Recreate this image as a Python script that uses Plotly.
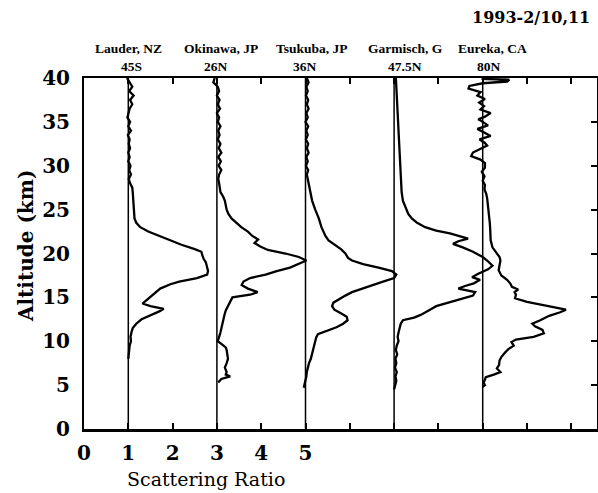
import plotly.graph_objects as go

# ---------------- data (scattering ratio vs altitude) ----------------
stations = ["Lauder, NZ", "Okinawa, JP", "Tsukuba, JP", "Garmisch, G", "Eureka, CA"]
latitudes = ["45S", "26N", "36N", "47.5N", "80N"]
offsets = [0, 2, 4, 6, 8]          # horizontal shift of each profile (baseline = 1 + offset)

lauder_alt = [40, 39.5, 39, 38.5, 38, 37.5, 37, 36.5, 36, 35.5, 35, 34.5, 34, 33.5, 33, 32.5, 32, 31.5, 31,
              30.5, 30, 29.5, 29, 28.5, 28, 27.5, 27, 26, 25, 24, 23.5, 23, 22.5, 22, 21.5, 21, 20.5, 20.2,
              19.8, 19.4, 19, 18.5, 18, 17.6, 17.2, 16.8, 16.5, 16, 15.5, 15, 14.6, 14.3, 14, 13.7, 13.4,
              13, 12.5, 12, 11.5, 11, 10.5, 10, 9.5, 9, 8.5, 8]
lauder_sr = [0.97, 1.03, 1.09, 1.02, 1.12, 1.04, 1.09, 1.03, 1.01, 0.98, 1.04, 1.0, 1.06, 0.99, 1.03, 1.01,
             1.04, 1.0, 1.03, 1.0, 1.05, 1.02, 1.06, 1.01, 1.04, 1.09, 1.1, 1.11, 1.13, 1.14, 1.18, 1.27,
             1.45, 1.7, 1.95, 2.2, 2.5, 2.65, 2.67, 2.7, 2.75, 2.78, 2.8, 2.78, 2.55, 2.15, 1.95, 1.72, 1.6,
             1.5, 1.38, 1.32, 1.5, 1.8, 1.7, 1.52, 1.3, 1.18, 1.1, 1.07, 1.05, 1.06, 1.03, 1.02, 1.01, 1.0]

okinawa_alt = [40, 39.5, 39, 38.5, 38, 37.5, 37, 36.5, 36, 35.5, 35, 34.5, 34, 33.5, 33, 32.5, 32, 31.5, 31,
               30.5, 30, 29.5, 29, 28.5, 28, 27.5, 27, 26.5, 26, 25, 24.5, 24, 23.5, 23, 22.5, 22, 21.6,
               21.2, 20.8, 20.4, 20, 19.6, 19.2, 18.8, 18.4, 18, 17.6, 17.2, 16.8, 16.4, 16, 15.6, 15.3,
               15, 14.5, 14, 13.5, 13, 12, 11, 10.5, 10, 9.7, 9.3, 9, 8.5, 8, 7.5, 7, 6.5, 6.2, 6, 5.7, 5.3]
okinawa_sr = [0.95, 0.92, 1.02, 1.05, 1.0, 1.06, 1.02, 1.07, 1.0, 1.05, 1.02, 1.08, 1.03, 1.06, 1.02, 1.08,
              1.04, 1.1, 1.03, 1.09, 1.04, 1.1, 1.05, 1.03, 1.05, 1.06, 1.08, 1.14, 1.18, 1.22, 1.26, 1.33,
              1.45, 1.55, 1.7, 1.8, 1.93, 1.85, 1.98, 2.15, 2.55, 2.85, 3.02, 2.85, 2.65, 2.35, 2.1, 1.75,
              1.6, 1.56, 1.7, 1.92, 1.75, 1.35, 1.3, 1.25, 1.2, 1.17, 1.13, 1.08, 1.05, 1.02, 1.1, 1.2, 1.22,
              1.24, 1.25, 1.22, 1.18, 1.22, 1.2, 1.3, 1.1, 1.03]

tsukuba_alt = [40, 39.5, 39, 38.5, 38, 37.5, 37, 36.5, 36, 35.5, 35, 34.5, 34, 33.5, 33, 32.5, 32, 31.5, 31,
               30.5, 30, 29.5, 29, 28.5, 28, 27.5, 27, 26, 25, 24, 23, 22.5, 22, 21.5, 21, 20.5, 20, 19.5,
               19.2, 18.8, 18.4, 18, 17.6, 17.2, 16.8, 16.4, 16, 15.6, 15.2, 14.8, 14.4, 14, 13.6, 13.2,
               12.8, 12.4, 12, 11.6, 11.2, 10.8, 10.4, 10, 9.5, 9, 8.5, 8, 7.5, 7, 6.5, 6, 5.5, 5, 4.7]
tsukuba_sr = [1.03, 1.07, 1.02, 1.05, 1.01, 1.06, 1.03, 1.07, 1.02, 1.05, 1.0, 1.06, 1.02, 1.05, 1.01, 1.06,
              1.03, 1.07, 1.02, 1.05, 1.01, 1.06, 1.03, 1.05, 1.07, 1.1, 1.12, 1.15, 1.22, 1.3, 1.36, 1.4,
              1.45, 1.52, 1.65, 1.8, 1.9, 1.96, 2.05, 2.3, 2.65, 2.95, 3.05, 3.0, 2.75, 2.5, 2.3, 2.05, 1.9,
              1.75, 1.63, 1.6, 1.65, 1.8, 1.93, 1.95, 1.85, 1.7, 1.5, 1.28, 1.24, 1.22, 1.2, 1.18, 1.16,
              1.12, 1.08, 1.05, 1.03, 1.02, 1.0, 0.97, 0.96]

garmisch_alt = [40, 39, 38, 37, 36, 35, 34, 33, 32, 31, 30, 29, 28, 27, 26, 25, 24.5, 24, 23.5, 23, 22.6,
                22.3, 22, 21.7, 21.4, 21.1, 20.7, 20.2, 19.6, 19.2, 18.6, 18.2, 17.7, 17.3, 17.0, 16.6,
                16.3, 16.0, 15.6, 15.2, 14.8, 14.4, 14.0, 13.5, 13.0, 12.7, 12.4, 12, 11.5, 11, 10.5, 10,
                9.5, 9, 8.5, 8, 7.5, 7, 6.5, 6, 5.5, 5, 4.5]
garmisch_sr = [1.04, 1.05, 1.06, 1.06, 1.07, 1.08, 1.09, 1.1, 1.11, 1.12, 1.13, 1.14, 1.15, 1.17, 1.2,
               1.27, 1.32, 1.4, 1.52, 1.7, 1.95, 2.26, 2.5, 2.67, 2.45, 2.33, 2.55, 2.78, 3.0, 3.1, 3.22,
               3.12, 2.9, 2.76, 2.94, 2.8, 2.6, 2.45, 2.83, 2.78, 2.5, 2.2, 1.95, 1.78, 1.6, 1.45, 1.2, 1.15,
               1.12, 1.1, 1.08, 1.1, 1.06, 1.04, 1.07, 1.03, 1.05, 1.02, 1.06, 1.03, 1.05, 1.02, 1.0]

eureka_alt = [40, 39.9, 39.8, 39.6, 39.4, 39.1, 38.8, 38.4, 38.0, 37.6, 37.2, 36.8, 36.4, 36.0, 35.6, 35.3,
              35.0, 34.6, 34.2, 33.8, 33.4, 33.0, 32.6, 32.3, 31.9, 31.5, 31.1, 30.7, 30.3, 29.8, 29.3,
              28.8, 28.3, 27.8, 27.3, 26.8, 26.3, 25.5, 24.6, 23.5, 22.7, 21.5, 20.7, 20.2, 19.6, 19.2,
              18.6, 18.1, 17.5, 17.0, 16.6, 16.2, 15.9, 15.6, 15.3, 14.9, 14.5, 14.2, 13.9, 13.6, 13.3,
              12.9, 12.4, 12.0, 11.7, 11.3, 10.9, 10.5, 10.2, 9.9, 9.5, 9.1, 8.7, 8.2, 7.8, 7.3, 6.9, 6.5,
              6.2, 5.9, 5.6, 5.3, 5.0, 4.8]
eureka_sr = [1.0, 1.0, 1.6, 1.55, 1.0, 0.7, 0.68, 0.95, 0.88, 1.05, 0.92, 1.03, 0.95, 1.18, 1.05, 0.9, 1.0,
             1.12, 0.88, 1.05, 1.18, 0.93, 1.05, 1.1, 0.95, 0.78, 0.74, 0.95, 1.05, 1.05, 0.98, 1.04, 1.0,
             1.05, 1.04, 1.08, 1.1, 1.12, 1.14, 1.16, 1.17, 1.18, 1.22, 1.3, 1.38, 1.4, 1.37, 1.36, 1.42,
             1.55, 1.62, 1.66, 1.8, 1.72, 1.75, 1.73, 2.0, 2.3, 2.6, 2.88, 2.75, 2.5, 2.3, 2.12, 2.18, 2.35,
             2.38, 2.15, 1.75, 1.65, 1.7, 1.58, 1.5, 1.42, 1.38, 1.37, 1.32, 1.4, 1.25, 1.07, 1.05, 1.02,
             1.05, 1.0]

profiles_alt = [lauder_alt, okinawa_alt, tsukuba_alt, garmisch_alt, eureka_alt]
profiles_sr = [lauder_sr, okinawa_sr, tsukuba_sr, garmisch_sr, eureka_sr]

x_tick_vals = list(range(0, 12))
x_tick_text = ["0", "1", "2", "3", "4", "5"] + [""] * 6
y_tick_vals = [0, 5, 10, 15, 20, 25, 30, 35, 40]
date_label = "1993-2/10,11"

# ---------------- figure ----------------
fig = go.Figure()

for off, alt, sr in zip(offsets, profiles_alt, profiles_sr):
    # reference line (scattering ratio = 1)
    fig.add_trace(go.Scatter(x=[1 + off, 1 + off], y=[0, 40], mode="lines",
                             line=dict(color="black", width=1.5), showlegend=False, hoverinfo="skip"))
    fig.add_trace(go.Scatter(x=[v + off for v in sr], y=alt, mode="lines",
                             line=dict(color="black", width=2.3), showlegend=False))

# invisible trace to host the mirrored (top/right) tick axes
fig.add_trace(go.Scatter(x=[0], y=[0], xaxis="x2", yaxis="y2", mode="markers",
                         marker=dict(opacity=0), showlegend=False, hoverinfo="skip"))

W, H = 598, 493
L, R, T, B = 84, 1, 78, 64
pw, ph = W - L - R, H - T - B


def px(xp):
    return (xp - L) / pw


def py(yp):
    return (H - B - yp) / ph


tick_font = dict(family="DejaVu Serif", size=20, color="black", weight="bold")

fig.update_layout(
    width=W, height=H,
    margin=dict(l=L, r=R, t=T, b=B),
    paper_bgcolor="white", plot_bgcolor="white",
    showlegend=False,
    xaxis=dict(range=[0, pw / 44.3], tickvals=x_tick_vals, ticktext=x_tick_text,
               ticks="inside", ticklen=6, tickwidth=1.5, tickcolor="black",
               showline=True, linewidth=2.5, linecolor="black", mirror=False,
               showgrid=False, zeroline=False, tickfont=tick_font, ticklabelstandoff=4),
    xaxis2=dict(range=[0, pw / 44.3], overlaying="x", side="top", tickvals=x_tick_vals,
                ticks="inside", ticklen=6, tickwidth=1.5, tickcolor="black", showticklabels=False,
                showline=True, linewidth=1.5, linecolor="black", showgrid=False, zeroline=False),
    yaxis=dict(range=[0, 40], tickvals=y_tick_vals, ticks="",
               showline=True, linewidth=2, linecolor="black", mirror=False,
               showgrid=False, zeroline=False, tickfont=tick_font, ticklabelstandoff=8),
    yaxis2=dict(range=[0, 40], overlaying="y", side="right", tickvals=y_tick_vals,
                ticks="inside", ticklen=6, tickwidth=1.5, tickcolor="black", showticklabels=False,
                showline=True, linewidth=1.5, linecolor="black", showgrid=False, zeroline=False),
)

annotations = []
station_px = [128, 221, 312, 405, 492]
lat_px = [131, 216, 305, 405, 489]
label_font = dict(family="Liberation Serif", size=13.5, color="black", weight="bold")
for name, xp in zip(stations, station_px):
    annotations.append(dict(text=name, x=px(xp), y=py(48), xref="paper", yref="paper",
                            showarrow=False, xanchor="center", yanchor="middle", font=label_font))
for lat, xp in zip(latitudes, lat_px):
    annotations.append(dict(text=lat, x=px(xp), y=py(67), xref="paper", yref="paper",
                            showarrow=False, xanchor="center", yanchor="middle", font=label_font))
annotations.append(dict(text=date_label, x=px(592), y=py(17), xref="paper", yref="paper",
                        showarrow=False, xanchor="right", yanchor="middle",
                        font=dict(family="DejaVu Serif", size=16, color="black", weight="bold")))
annotations.append(dict(text="Altitude (km)", x=px(26), y=py(246), xref="paper", yref="paper",
                        showarrow=False, textangle=-90, xanchor="center", yanchor="middle",
                        font=dict(family="DejaVu Serif", size=20, color="black", weight="bold")))
annotations.append(dict(text="Scattering Ratio", x=px(206), y=py(479), xref="paper", yref="paper",
                        showarrow=False, xanchor="center", yanchor="middle",
                        font=dict(family="DejaVu Serif", size=19, color="black")))
fig.update_layout(annotations=annotations)

# remove the browser's default page margin so the figure sits at the window origin
fig.write_html("out.html", config={"displayModeBar": False},
               post_script="document.body.style.margin='0px';")
